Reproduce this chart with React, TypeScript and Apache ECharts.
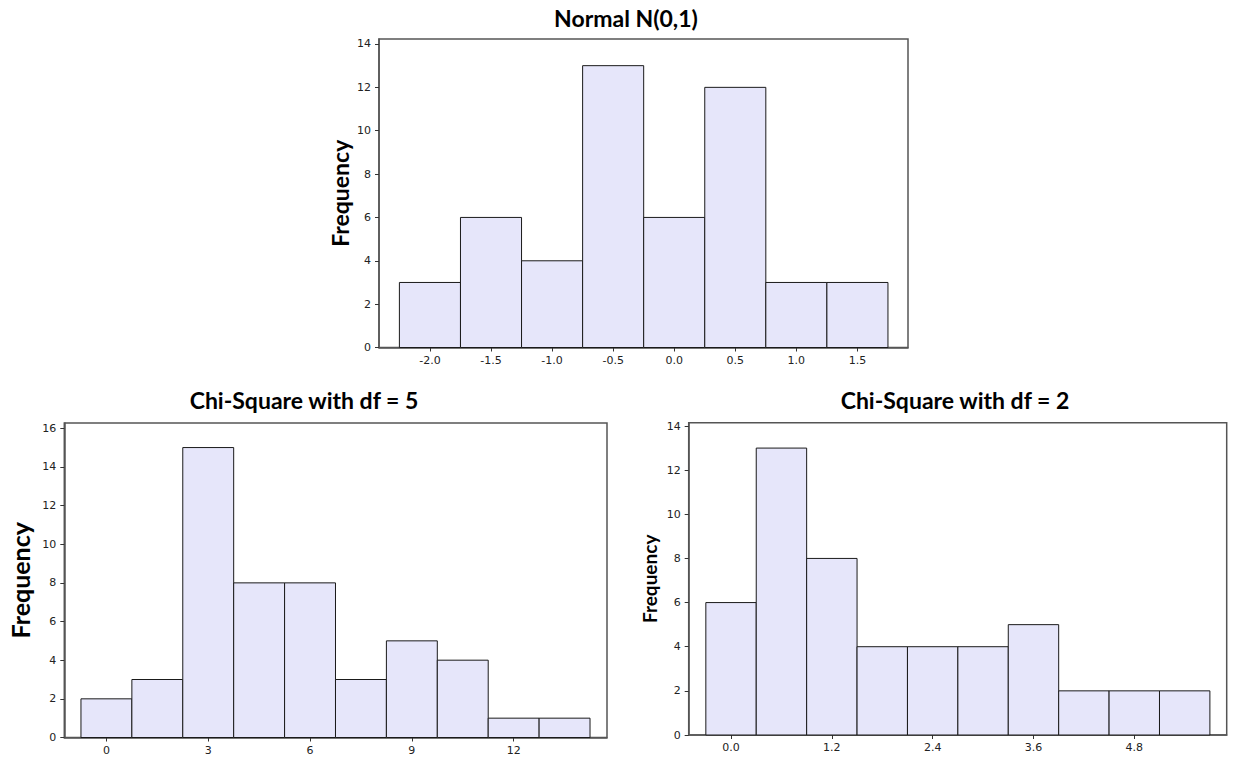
import React, { useEffect, useRef } from "react";
import * as echarts from "echarts";

// Normal N(0,1)
const normalCenters = [-2.0, -1.5, -1.0, -0.5, 0.0, 0.5, 1.0, 1.5];
const normalCounts = [3, 6, 4, 13, 6, 12, 3, 3];
const normalBinWidth = 0.5;
const normalXTicks = [-2.0, -1.5, -1.0, -0.5, 0.0, 0.5, 1.0, 1.5];
const normalYTicks = [0, 2, 4, 6, 8, 10, 12, 14];

// Chi-Square df = 5
const chi5Centers = [0, 1.5, 3, 4.5, 6, 7.5, 9, 10.5, 12, 13.5];
const chi5Counts = [2, 3, 15, 8, 8, 3, 5, 4, 1, 1];
const chi5BinWidth = 1.5;
const chi5XTicks = [0, 3, 6, 9, 12];
const chi5YTicks = [0, 2, 4, 6, 8, 10, 12, 14, 16];

// Chi-Square df = 2
const chi2Centers = [0.0, 0.6, 1.2, 1.8, 2.4, 3.0, 3.6, 4.2, 4.8, 5.4];
const chi2Counts = [6, 13, 8, 4, 4, 4, 5, 2, 2, 2];
const chi2BinWidth = 0.6;
const chi2XTicks = [0.0, 1.2, 2.4, 3.6, 4.8];
const chi2YTicks = [0, 2, 4, 6, 8, 10, 12, 14];

const TITLE_FONT = "Lato, 'Open Sans', sans-serif";
const TICK_FONT = "'DejaVu Sans', Verdana, sans-serif";
const BAR_FILL = "#E6E6FA";

function histSeries(idx: number, centers: number[], counts: number[], w: number) {
  return {
    type: "custom",
    xAxisIndex: idx,
    yAxisIndex: idx,
    data: centers.map((c, i) => [c, counts[i]]),
    encode: { x: 0, y: 1 },
    renderItem: (params: any, api: any) => {
      const c = api.value(0);
      const v = api.value(1);
      const p0 = api.coord([c - w / 2, v]);
      const p1 = api.coord([c + w / 2, 0]);
      return {
        type: "rect",
        shape: { x: p0[0], y: p0[1], width: p1[0] - p0[0], height: p1[1] - p0[1] },
        style: { fill: BAR_FILL, stroke: "#1a1a1a", lineWidth: 1 },
      };
    },
  };
}

function xAxis(idx: number, min: number, max: number, ticks: number[], digits: number) {
  return {
    type: "value",
    gridIndex: idx,
    min,
    max,
    axisLine: { show: true, onZero: false, lineStyle: { color: "#555", width: 1.5 } },
    axisTick: { show: true, length: 4, customValues: ticks, lineStyle: { color: "#333" } },
    axisLabel: {
      customValues: ticks,
      formatter: (v: number) => v.toFixed(digits),
      fontFamily: TICK_FONT,
      fontSize: 11,
      color: "#222",
      margin: 7,
    },
    splitLine: { show: false },
  };
}

function yAxis(idx: number, max: number, ticks: number[], nameSize: number, nameGap: number) {
  return {
    type: "value",
    gridIndex: idx,
    min: 0,
    max,
    name: "Frequency",
    nameLocation: "middle",
    nameRotate: 90,
    nameGap,
    nameTextStyle: { fontFamily: TITLE_FONT, fontWeight: "bold", fontSize: nameSize, color: "#000" },
    axisLine: { show: true, onZero: false, lineStyle: { color: "#555", width: 1.5 } },
    axisTick: { show: true, length: 4, customValues: ticks, lineStyle: { color: "#333" } },
    axisLabel: {
      customValues: ticks,
      formatter: (v: number) => String(v),
      fontFamily: TICK_FONT,
      fontSize: 11,
      color: "#222",
      margin: 8,
    },
    splitLine: { show: false },
  };
}

export default function App() {
  const ref = useRef<HTMLDivElement>(null);
  useEffect(() => {
    if (!ref.current) return;
    const chart = echarts.init(ref.current, null, { renderer: "svg" });
    const titleStyle = { fontFamily: TITLE_FONT, fontWeight: "bold", fontSize: 23, color: "#000" };
    chart.setOption({
      animation: false,
      backgroundColor: "#fff",
      title: [
        { text: "Normal N(0,1)", left: 621, top: 1, textAlign: "center", textStyle: titleStyle },
        { text: "Chi-Square with df = 5", left: 299, top: 383, textAlign: "center", textStyle: titleStyle },
        { text: "Chi-Square with df = 2", left: 950, top: 383, textAlign: "center", textStyle: titleStyle },
      ],
      grid: [
        { left: 379, top: 39, width: 529, height: 308.5, show: true, borderColor: "#555", borderWidth: 1.5, backgroundColor: "#fff" },
        { left: 64.3, top: 423, width: 542.7, height: 314.5, show: true, borderColor: "#555", borderWidth: 1.5, backgroundColor: "#fff" },
        { left: 688.7, top: 422.7, width: 538, height: 312.3, show: true, borderColor: "#555", borderWidth: 1.5, backgroundColor: "#fff" },
      ],
      xAxis: [
        xAxis(0, -2.417, 1.914, normalXTicks, 1),
        xAxis(1, -1.241, 14.75, chi5XTicks, 0),
        xAxis(2, -0.504, 5.9, chi2XTicks, 1),
      ],
      yAxis: [
        yAxis(0, 14.23, normalYTicks, 23, 28),
        yAxis(1, 16.27, chi5YTicks, 25, 32),
        yAxis(2, 14.15, chi2YTicks, 19, 30),
      ],
      series: [
        histSeries(0, normalCenters, normalCounts, normalBinWidth),
        histSeries(1, chi5Centers, chi5Counts, chi5BinWidth),
        histSeries(2, chi2Centers, chi2Counts, chi2BinWidth),
      ],
    });
    return () => chart.dispose();
  }, []);
  return (
    <div
      ref={ref}
      style={{ position: "absolute", left: 0, top: 0, width: 1233, height: 761, background: "#fff" }}
    />
  );
}
